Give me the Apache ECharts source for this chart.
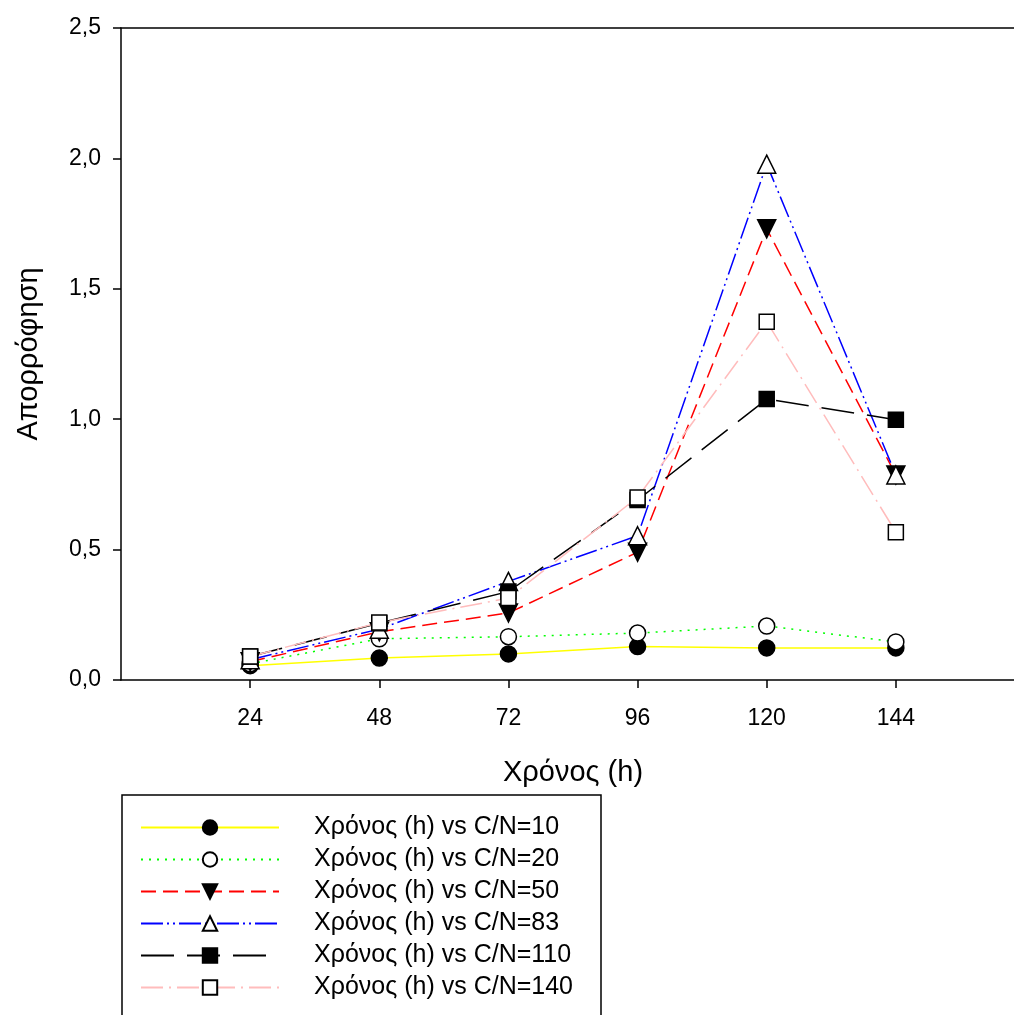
<!DOCTYPE html>
<html>
<head>
<meta charset="utf-8">
<script src="https://cdn.jsdelivr.net/npm/echarts@6/dist/echarts.min.js"></script>
<style>
  html, body { margin: 0; padding: 0; background: #fff; }
  #chart { width: 1014px; height: 1015px; }
</style>
</head>
<body>
<div id="chart"></div>
<script>
// sampling times (h)
const hours = [24, 48, 72, 96, 120, 144];
const xTicks = [24, 48, 72, 96, 120, 144];

// absorbance, one array per C/N ratio
const cn10 = [0.055, 0.084, 0.100, 0.128, 0.123, 0.123];
const cn20 = [0.062, 0.158, 0.166, 0.180, 0.207, 0.146];
const cn50 = [0.070, 0.185, 0.257, 0.490, 1.730, 0.786];
const cn83 = [0.078, 0.195, 0.378, 0.553, 1.978, 0.786];
const cn110 = [0.090, 0.218, 0.339, 0.690, 1.077, 0.998];
const cn140 = [0.090, 0.220, 0.314, 0.700, 1.374, 0.567];

const FONT = 'Liberation Sans, Arial, sans-serif';

const pairs = (vals) => hours.map((h, i) => [h, vals[i]]);

const seriesDefs = [
  { name: 'Χρόνος (h) vs C/N=10', data: cn10, color: '#ffff00', dash: 'solid', symbol: 'circle', fill: '#000', size: 16 },
  { name: 'Χρόνος (h) vs C/N=20', data: cn20, color: '#00ff00', dash: [2, 6], symbol: 'circle', fill: '#fff', size: 16 },
  { name: 'Χρόνος (h) vs C/N=50', data: cn50, color: '#ff0000', dash: [15, 7], symbol: 'triangle', fill: '#000', size: 18, rotate: 180 },
  { name: 'Χρόνος (h) vs C/N=83', data: cn83, color: '#0000ff', dash: [22, 4, 2, 4, 2, 4], symbol: 'triangle', fill: '#fff', size: 18 },
  { name: 'Χρόνος (h) vs C/N=110', data: cn110, color: '#000000', dash: [33, 13], symbol: 'rect', fill: '#000', size: 15 },
  { name: 'Χρόνος (h) vs C/N=140', data: cn140, color: '#ffbcbc', dash: [22, 6, 2, 6], symbol: 'rect', fill: '#fff', size: 15 }
];

const chart = echarts.init(document.getElementById('chart'));

const option = {
  backgroundColor: '#fff',
  animation: false,
  grid: { left: 121, top: 28, width: 904, height: 652, outerBoundsMode: 'none' },
  xAxis: [
    {
      type: 'value',
      min: 0,
      max: 168,
      interval: 24,
      name: 'Χρόνος (h)',
      nameLocation: 'middle',
      nameGap: 78,
      nameTextStyle: { fontFamily: FONT, fontSize: 29, color: '#000' },
      axisLine: { show: true, lineStyle: { color: '#000', width: 1.5 } },
      axisTick: { show: true, length: 8, customValues: xTicks, lineStyle: { color: '#000', width: 1.5 } },
      axisLabel: {
        customValues: xTicks,
        margin: 27,
        fontFamily: FONT,
        fontSize: 23,
        color: '#000'
      },
      splitLine: { show: false }
    },
    {
      type: 'value',
      position: 'top',
      min: 0,
      max: 168,
      axisLine: { show: true, lineStyle: { color: '#000', width: 1.5 } },
      axisTick: { show: false },
      axisLabel: { show: false },
      splitLine: { show: false }
    }
  ],
  yAxis: {
    type: 'value',
    min: 0,
    max: 2.5,
    interval: 0.5,
    name: 'Απορρόφηση',
    nameLocation: 'middle',
    nameRotate: 90,
    nameGap: 78,
    nameTextStyle: { fontFamily: FONT, fontSize: 29, color: '#000' },
    axisLine: { show: true, lineStyle: { color: '#000', width: 1.5 } },
    axisTick: { show: true, length: 8, lineStyle: { color: '#000', width: 1.5 } },
    axisLabel: {
      margin: 20,
      fontFamily: FONT,
      fontSize: 23,
      color: '#000',
      formatter: (v) => v.toFixed(1).replace('.', ',')
    },
    splitLine: { show: false }
  },
  legend: {
    orient: 'vertical',
    left: 140,
    top: 815,
    padding: 0,
    itemWidth: 138,
    itemHeight: 18,
    itemGap: 7,
    textStyle: {
      fontFamily: FONT,
      fontSize: 25,
      color: '#000',
      lineHeight: 25,
      padding: [0, 0, 0, 30]
    },
    data: seriesDefs.map((s) => s.name)
  },
  graphic: [
    {
      type: 'rect',
      shape: { x: 122, y: 795, width: 479, height: 300 },
      style: { fill: 'none', stroke: '#000', lineWidth: 1.5 },
      silent: true
    }
  ],
  series: seriesDefs.map((s) => ({
    name: s.name,
    type: 'line',
    data: pairs(s.data),
    symbol: s.symbol,
    symbolSize: s.size,
    symbolRotate: s.rotate || 0,
    showAllSymbol: true,
    lineStyle: { color: s.color, width: 1.5, type: s.dash },
    itemStyle: { color: s.fill, borderColor: '#000', borderWidth: 1.5 },
    z: 2
  }))
};

chart.setOption(option);
</script>
</body>
</html>
